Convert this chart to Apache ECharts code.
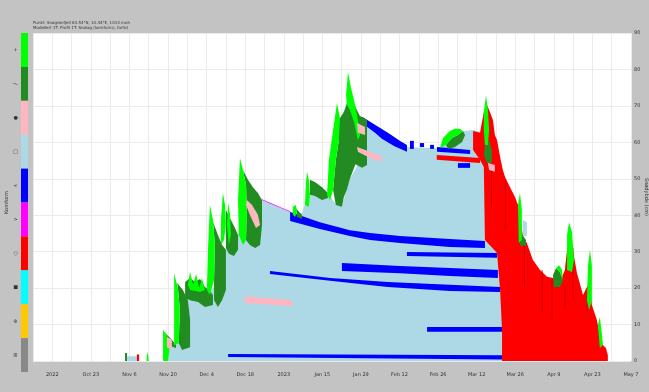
<!DOCTYPE html>
<html>
<head>
<meta charset="utf-8">
<script src="https://cdn.jsdelivr.net/npm/echarts@6/dist/echarts.min.js"></script>
<style>
html,body{margin:0;padding:0;background:#c3c3c3}
#chart{width:649px;height:392px}
</style>
</head>
<body>
<div id="chart"></div>
<script>
// Time axis: days counted from 9 Oct 2022 (day 0). Heights in cm.
const tickDays = [0, 14, 28, 42, 56, 70, 84, 98, 112, 126, 140, 154, 168, 182, 196, 210];
const tickLabels = ['2022', 'Oct 23', 'Nov 6', 'Nov 20', 'Dec 4', 'Dec 18', '2023', 'Jan 15',
  'Jan 29', 'Feb 12', 'Feb 26', 'Mar 12', 'Mar 26', 'Apr 9', 'Apr 23', 'May 7'];

// Grain type legend (top to bottom)
const grainCodes = ['PP', 'DF', 'RG', 'FC', 'DH', 'SH', 'MF', 'IF', 'MFcr', 'PPgp'];
const grainSymbols = ['+', '/', '●', '□', '∧', '∨', '○', '■', '⊕', '⊞'];
const grainColors = ['#00ff00', '#228b22', '#ffb6c1', '#add8e6', '#0000ff',
  '#ff00ff', '#ff0000', '#00ffff', '#ffc800', '#888888'];
const wetShadeColor = '#c80000';

// Layer outlines as [day, height cm] vertices, one list per grain type.
const fcShapes = [
  [[27.1, 0], [27.1, 1.3], [30.7, 1.3], [30.7, 0]],
  [[40.2, 0], [40.2, 3.0], [42.7, 4.4], [44.5, 4.4], [46.3, 10.0], [48.2, 17.3], [50.0, 19.5],
   [55.0, 18.0], [56.5, 19.0], [58.5, 20.0], [61.0, 30.0], [63.0, 30.5], [66.0, 33.0],
   [67.4, 34.6], [69.2, 40.0], [71.0, 44.0], [73.9, 45.6], [76.1, 44.2], [79.0, 43.4],
   [83.7, 41.7], [87.0, 40.9], [88.0, 40.5], [90.6, 40.6], [92.0, 44.0], [93.5, 45.6],
   [97.1, 45.0], [99.7, 45.5], [101.0, 45.0], [103.0, 43.0], [105.0, 42.5], [108.0, 50.0],
   [111.0, 54.0], [113.0, 60.0], [114.5, 65.8], [115.3, 65.0], [118.9, 63.1], [122.5, 61.5],
   [126.2, 59.8], [128.7, 58.7], [133.4, 58.5], [139.6, 58.5], [142.9, 59.3], [145.0, 61.2],
   [147.2, 62.0], [149.0, 63.1], [152.7, 63.4], [156.3, 62.6], [159.0, 50.0], [163.5, 20.0],
   [163.5, 0]]
];
const fcLatePatches = [
  [[170.8, 38.7], [172.2, 38.1], [172.2, 34.3], [170.8, 34.3]]
];
const dhShapes = [
  [[112.4, 67.0], [117.1, 64.8], [122.5, 62.3], [126.2, 60.4], [128.7, 59.3], [128.7, 57.4],
   [124.0, 59.0], [119.6, 61.0], [117.1, 62.6], [112.4, 65.3]],
  [[129.8, 60.4], [131.2, 60.4], [131.2, 58.2], [129.8, 58.2]],
  [[133.4, 59.8], [134.9, 59.8], [134.9, 58.7], [133.4, 58.7]],
  [[137.1, 59.3], [138.5, 59.3], [138.5, 58.2], [137.1, 58.2]],
  [[139.6, 58.7], [151.6, 57.9], [151.6, 56.8], [139.6, 57.4]],
  [[147.2, 54.3], [151.6, 54.3], [151.6, 53.0], [147.2, 53.0]],
  [[86.3, 40.9], [97.1, 38.1], [108.0, 35.9], [115.3, 35.1], [126.2, 34.3], [144.3, 33.5],
   [157.0, 32.9], [157.0, 31.0], [144.3, 31.3], [126.2, 32.4], [115.3, 33.2], [108.0, 34.3],
   [97.1, 36.2], [86.3, 38.4]],
  [[128.7, 29.9], [161.4, 29.6], [161.4, 28.3], [128.7, 28.8]],
  [[105.1, 26.9], [126.2, 26.1], [144.3, 25.5], [161.7, 25.0], [161.7, 22.8], [144.3, 23.3],
   [126.2, 24.1], [105.1, 24.7]],
  [[79.0, 24.7], [100.8, 22.8], [121.8, 21.7], [144.3, 20.9], [162.5, 20.3], [162.5, 18.9],
   [144.3, 19.2], [121.8, 20.3], [100.8, 22.0], [79.0, 23.9]],
  [[136.0, 9.3], [163.2, 9.3], [163.2, 8.0], [136.0, 8.0]],
  [[63.8, 1.9], [163.2, 1.6], [163.2, 0.4], [63.8, 1.1]]
];
const shShapes = [
  [[76.1, 44.4], [83.7, 41.9], [86.3, 41.1], [86.3, 40.9], [83.7, 41.7], [76.1, 44.2]]
];
const mfShapes = [
  [[30.7, 0], [30.7, 1.8], [31.5, 1.8], [31.5, 0]],
  [[139.5, 56.5], [155.2, 55.7], [155.2, 54.3], [139.5, 55.2]],
  [[152.7, 63.1], [155.2, 62.6], [156.6, 68.3], [157.7, 70.3], [158.8, 68.3], [159.9, 66.1],
   [160.6, 62.0], [161.4, 60.6], [162.5, 56.0], [163.5, 52.4], [164.3, 50.5], [166.1, 47.7],
   [167.9, 45.0], [169.0, 42.8], [169.7, 40.1], [170.8, 34.0], [172.2, 32.4], [174.4, 27.7],
   [177.0, 25.0], [179.5, 23.1], [181.7, 22.8], [184.2, 21.7], [186.0, 25.0], [186.8, 30.5],
   [188.9, 30.5], [190.4, 24.1], [192.6, 18.1], [194.4, 20.9], [195.1, 20.9], [195.8, 15.4],
   [197.6, 11.3], [198.7, 7.1], [199.8, 4.4], [200.9, 3.6], [201.6, 1.6], [201.6, 0],
   [163.2, 0], [163.2, 8.5], [162.5, 19.5], [161.4, 29.6], [157.0, 33.2], [156.6, 53.2],
   [155.2, 55.2], [152.7, 57.9]]
];
// Darker vertical streaks inside the melt-form block
const mfStreaks = [
  [[159.2, 53.2], [159.5, 53.2], [159.5, 42.3], [159.2, 42.3]],
  [[164.2, 49.7], [164.5, 49.7], [164.5, 35.9], [164.2, 35.9]],
  [[171.1, 32.4], [171.5, 32.4], [171.5, 20.3], [171.1, 20.3]],
  [[177.6, 25.0], [177.9, 25.0], [177.9, 13.2], [177.6, 13.2]],
  [[181.2, 22.2], [181.5, 22.2], [181.5, 11.3], [181.2, 11.3]],
  [[185.9, 20.3], [186.2, 20.3], [186.2, 14.0], [185.9, 14.0]],
  [[188.8, 31.0], [189.1, 31.0], [189.1, 16.7], [188.8, 16.7]],
  [[193.9, 18.7], [194.2, 18.7], [194.2, 13.2], [193.9, 13.2]]
];
const dfShapes = [
  [[26.4, 0], [26.4, 2.2], [27.1, 2.2], [27.1, 0]],
  [[41.3, 7.4], [43.4, 5.8], [44.9, 4.4], [44.9, 3.6], [41.6, 4.4]],
  [[45.3, 21.4], [47.4, 19.5], [49.2, 16.7], [50.0, 11.3], [50.0, 3.8], [47.1, 3.0], [45.9, 4.9],
   [46.3, 14.0], [45.6, 20.0]],
  [[48.2, 21.7], [50.0, 22.8], [51.8, 21.7], [53.6, 22.5], [55.4, 20.3], [57.2, 19.2], [58.3, 18.1],
   [58.3, 15.4], [55.4, 14.8], [52.9, 16.2], [50.0, 16.7], [48.2, 17.3]],
  [[57.9, 39.0], [60.1, 34.6], [61.6, 31.8], [63.0, 30.5], [63.0, 19.5], [61.6, 16.7], [60.1, 14.8],
   [58.7, 16.7], [58.7, 22.2], [59.0, 31.8], [58.3, 38.7]],
  [[63.0, 41.4], [64.5, 39.2], [66.3, 36.5], [67.4, 34.6], [67.4, 30.5], [65.9, 28.8], [64.1, 29.4],
   [63.0, 31.0]],
  [[69.2, 52.4], [71.0, 49.7], [72.8, 47.7], [74.6, 46.1], [76.1, 44.2], [76.1, 37.3], [75.4, 31.8],
   [73.6, 31.0], [71.7, 31.8], [70.3, 33.2], [70.6, 40.1], [70.3, 48.3]],
  [[88.4, 42.0], [89.9, 40.6], [90.6, 40.1], [90.6, 39.0], [88.8, 39.5], [88.8, 40.9]],
  [[93.5, 49.7], [95.3, 49.1], [97.9, 47.7], [100.0, 46.1], [100.0, 44.7], [97.9, 44.2], [95.3, 45.3],
   [93.5, 45.6]],
  [[101.9, 63.4], [104.4, 66.7], [105.8, 68.3], [107.3, 71.6], [108.7, 72.4], [110.2, 69.4],
   [111.6, 67.2], [113.1, 66.7], [114.2, 66.1], [114.2, 53.8], [112.4, 53.0], [110.0, 54.0],
   [108.0, 50.0], [106.9, 47.0], [105.8, 45.0], [105.1, 42.3], [102.9, 42.8], [101.9, 46.9],
   [102.9, 55.2], [104.0, 60.6]],
  [[142.9, 59.3], [145.0, 61.2], [147.2, 62.0], [149.0, 63.1], [149.8, 62.0], [148.7, 60.1],
   [146.1, 58.7], [143.6, 58.2]],
  [[157.0, 59.3], [158.5, 60.6], [159.5, 57.9], [159.5, 54.3], [157.7, 54.3], [156.6, 56.5]],
  [[170.1, 35.1], [171.9, 33.2], [171.9, 31.6], [169.7, 31.6]],
  [[181.7, 23.6], [182.8, 25.5], [184.2, 24.4], [185.3, 22.2], [184.2, 20.3], [182.0, 20.3]]
];
const ppShapes = [
  [[34.2, 0], [34.4, 2.5], [34.8, 1.5], [35.0, 0]],
  [[40.2, 8.5], [41.6, 7.1], [42.7, 4.4], [42.0, 0], [40.2, 0]],
  [[44.2, 24.1], [45.6, 20.0], [46.3, 14.0], [45.9, 4.9], [44.2, 4.4]],
  [[49.2, 20.9], [50.0, 24.4], [51.1, 20.9], [52.2, 23.9], [53.3, 20.0], [54.3, 22.8], [55.4, 19.5],
   [53.6, 18.9], [50.0, 19.5]],
  [[57.2, 42.8], [58.3, 38.7], [59.0, 31.8], [58.7, 22.2], [57.2, 18.1], [56.1, 19.5], [56.5, 30.5]],
  [[61.9, 46.1], [62.7, 42.8], [63.0, 37.3], [62.3, 33.2], [61.2, 31.8], [61.2, 38.7]],
  [[63.8, 43.4], [64.5, 40.1], [64.8, 34.6], [64.1, 31.8], [63.4, 37.3]],
  [[68.1, 55.7], [69.2, 52.4], [70.3, 48.3], [70.6, 40.1], [70.3, 33.2], [69.2, 31.8], [67.7, 34.6],
   [67.4, 44.2]],
  [[87.3, 42.3], [88.4, 42.8], [88.8, 40.9], [88.1, 39.5], [87.3, 40.1]],
  [[92.4, 51.9], [93.1, 49.7], [93.5, 45.6], [93.1, 42.3], [91.7, 42.8], [92.0, 48.3]],
  [[99.7, 45.6], [100.4, 55.2], [101.9, 63.4], [103.3, 70.8], [104.4, 66.7], [104.0, 60.6],
   [102.9, 55.2], [101.9, 46.9], [100.8, 44.2]],
  [[106.6, 73.0], [107.3, 79.3], [108.4, 74.9], [109.5, 71.6], [110.6, 67.5], [111.7, 62.0],
   [110.9, 60.6], [109.5, 65.6], [108.0, 68.9], [106.9, 70.3]],
  [[140.7, 58.5], [141.8, 61.2], [143.2, 62.3], [144.3, 63.1], [146.1, 63.7], [147.9, 63.7],
   [149.0, 63.1], [147.2, 62.0], [145.0, 61.2], [142.9, 59.3]],
  [[156.6, 68.3], [157.4, 72.9], [158.1, 68.9], [158.5, 63.4], [158.1, 59.3], [157.0, 59.3],
   [156.6, 63.4]],
  [[169.0, 42.8], [169.7, 46.1], [170.4, 41.4], [170.4, 33.2], [169.3, 32.4]],
  [[182.8, 25.5], [183.9, 26.3], [185.0, 25.0], [185.3, 22.2], [184.2, 24.4]],
  [[186.8, 34.6], [187.5, 38.1], [188.6, 35.4], [189.3, 27.7], [188.6, 24.4], [186.8, 25.0]],
  [[194.4, 26.3], [195.1, 30.5], [195.8, 26.3], [195.8, 16.7], [194.8, 14.0], [194.0, 16.7]],
  [[198.0, 9.9], [198.7, 12.1], [199.5, 7.1], [199.8, 4.4], [198.7, 3.6]]
];
const rgShapes = [
  [[41.6, 6.6], [43.4, 5.8], [43.4, 3.0], [41.6, 3.8]],
  [[70.6, 44.2], [72.5, 42.8], [74.6, 40.1], [75.4, 37.3], [73.9, 36.5], [71.7, 40.1], [70.3, 42.8]],
  [[69.9, 17.8], [87.0, 16.7], [87.0, 15.1], [69.9, 15.9]],
  [[110.6, 65.3], [113.5, 64.2], [113.5, 62.0], [110.9, 62.6]],
  [[110.6, 58.7], [115.3, 57.4], [119.6, 56.0], [119.6, 54.6], [115.3, 55.7], [110.9, 57.4]],
  [[158.1, 54.3], [160.6, 53.8], [160.6, 51.9], [158.5, 52.4]]
];

const colorOf = code => grainColors[grainCodes.indexOf(code)];

// Each outline list becomes one custom series of filled polygons.
function layerSeries(shapes, fill) {
  return {
    type: 'custom',
    xAxisIndex: 0,
    yAxisIndex: 0,
    silent: true,
    animation: false,
    data: shapes.map(s => s[0]),
    renderItem: (params, api) => ({
      type: 'polygon',
      shape: { points: shapes[params.dataIndex].map(p => api.coord(p)) },
      style: { fill: fill }
    })
  };
}

const tickText = {};
tickDays.forEach((d, i) => { tickText[d] = tickLabels[i]; });

const chart = echarts.init(document.getElementById('chart'), null, { renderer: 'canvas' });
chart.setOption({
  backgroundColor: '#c3c3c3',
  animation: false,
  title: {
    text: 'Punkt: Snøgrønfjell 63.54°N, 10.44°E, 1013 moh\nModellert 1T. Profil 1T. Snølag (kornform), fortid',
    left: 33,
    top: 20,
    padding: 0,
    textStyle: { fontSize: 4, lineHeight: 5, fontWeight: 'normal', color: '#333', fontFamily: 'DejaVu Sans' }
  },
  grid: [
    { left: 33, top: 33, width: 598, height: 328, show: true, backgroundColor: '#ffffff', borderWidth: 0,
      outerBoundsMode: 'none', containLabel: false },
    { left: 21, top: 33, width: 7, height: 339, show: false, outerBoundsMode: 'none', containLabel: false }
  ],
  xAxis: [
    {
      type: 'value', gridIndex: 0, min: -7, max: 210, interval: 7,
      axisLine: { show: false }, axisTick: { show: false },
      splitLine: { show: true, lineStyle: { color: '#ebebeb', width: 1 } },
      axisLabel: {
        fontSize: 5, color: '#333', margin: 11, fontFamily: 'DejaVu Sans',
        formatter: v => (tickText[v] !== undefined ? tickText[v] : '')
      }
    },
    { type: 'value', gridIndex: 1, min: 0, max: 1, show: false }
  ],
  yAxis: [
    {
      type: 'value', gridIndex: 0, position: 'right', min: 0, max: 90, interval: 10,
      axisLine: { show: false }, axisTick: { show: false },
      splitLine: { show: true, lineStyle: { color: '#ebebeb', width: 1 } },
      axisLabel: { fontSize: 5, color: '#333', margin: 3, fontFamily: 'DejaVu Sans' },
      name: 'Snødybde (cm)', nameLocation: 'middle', nameGap: 13, nameRotate: 270,
      nameMoveOverlap: false,
      nameTextStyle: { fontSize: 5, color: '#333', fontFamily: 'DejaVu Sans' }
    },
    {
      type: 'category', gridIndex: 1, inverse: true, data: grainCodes,
      axisLine: { show: false }, axisTick: { show: false },
      axisLabel: {
        fontSize: 5, color: '#333', margin: 3, rotate: 90, fontFamily: 'DejaVu Sans',
        formatter: (v, i) => grainSymbols[i]
      },
      name: 'Kornform', nameLocation: 'middle', nameGap: 12, nameRotate: 90,
      nameMoveOverlap: false,
      nameTextStyle: { fontSize: 5, color: '#333', fontFamily: 'DejaVu Sans' }
    }
  ],
  series: [
    {
      type: 'bar', xAxisIndex: 1, yAxisIndex: 1, silent: true, animation: false,
      barWidth: '100%', barCategoryGap: '0%',
      data: grainCodes.map((c, i) => ({ value: 1, itemStyle: { color: grainColors[i] } }))
    },
    layerSeries(fcShapes, colorOf('FC')),
    layerSeries(dhShapes, colorOf('DH')),
    layerSeries(shShapes, colorOf('SH')),
    layerSeries(mfShapes, colorOf('MF')),
    layerSeries(mfStreaks, wetShadeColor),
    layerSeries(fcLatePatches, colorOf('FC')),
    layerSeries(dfShapes, colorOf('DF')),
    layerSeries(ppShapes, colorOf('PP')),
    layerSeries(rgShapes, colorOf('RG'))
  ]
});
</script>
</body>
</html>
